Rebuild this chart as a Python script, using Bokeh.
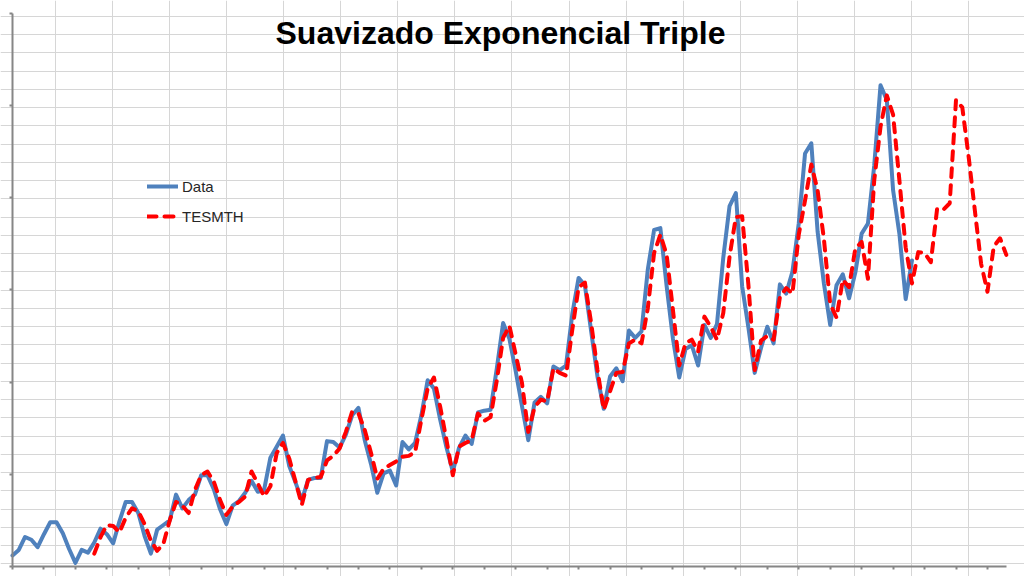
from bokeh.plotting import figure
from bokeh.models import Range1d, Grid, SingleIntervalTicker, Label, Legend
from bokeh.embed import file_html
from bokeh.resources import INLINE

# ---------------- data ----------------
title_text = "Suavizado Exponencial Triple"
series_names = ["Data", "TESMTH"]

passengers = [
    112, 118, 132, 129, 121, 135, 148, 148, 136, 119, 104, 118,
    115, 126, 141, 135, 125, 149, 170, 170, 158, 133, 114, 140,
    145, 150, 178, 163, 172, 178, 199, 199, 184, 162, 146, 166,
    171, 180, 193, 181, 183, 218, 230, 242, 209, 191, 172, 194,
    196, 196, 236, 235, 229, 243, 264, 272, 237, 211, 180, 201,
    204, 188, 235, 227, 234, 264, 302, 293, 259, 229, 203, 229,
    242, 233, 267, 269, 270, 315, 364, 347, 312, 274, 237, 278,
    284, 277, 317, 313, 318, 374, 413, 405, 355, 306, 271, 306,
    315, 301, 356, 348, 355, 422, 465, 467, 404, 347, 305, 336,
    340, 318, 362, 348, 363, 435, 491, 505, 404, 359, 310, 337,
    360, 342, 406, 396, 420, 472, 548, 559, 463, 407, 362, 405,
    417, 391, 419, 461, 472, 535, 622, 606, 508, 461, 390, 432,
]

tesmth_start = 13
tesmth = [
    114, 132, 145, 144, 137, 153, 163, 160, 146, 128, 117,
    125, 150, 170, 166, 158, 183, 199, 203, 192, 172, 156, 165,
    170, 176, 203, 190, 176, 187, 223, 234, 217, 192, 167, 194,
    196, 197, 215, 220, 228, 246, 268, 266, 248, 223, 195, 206,
    210, 214, 219, 220, 224, 259, 293, 305, 273, 237, 199, 230,
    234, 237, 266, 258, 262, 302, 348, 361, 330, 299, 246, 273,
    281, 279, 315, 310, 307, 357, 403, 408, 364, 313, 270, 290,
    310, 311, 342, 346, 342, 380, 440, 460, 438, 378, 318, 342,
    346, 333, 371, 360, 346, 375, 436, 479, 480, 405, 313, 345,
    350, 346, 392, 402, 396, 460, 497, 536, 508, 455, 385, 370,
    411, 403, 445, 452, 412, 519, 577, 611, 590, 519, 446, 407,
    441, 440, 430, 488, 487, 494, 606, 598, 545, 486, 428, 398,
    447, 456, 438,
]

x_data = list(range(len(passengers)))
x_tes = list(range(tesmth_start, tesmth_start + len(tesmth)))

# ---------------- figure ----------------
p = figure(width=1024, height=576, output_backend="svg", toolbar_location=None,
           x_range=Range1d(-1.908, 160.89), y_range=Range1d(89.15, 713.9),
           min_border_left=0, min_border_right=0, min_border_top=0, min_border_bottom=0)
p.outline_line_color = None
p.background_fill_color = "white"
p.border_fill_color = "white"
p.xgrid.visible = False
p.ygrid.visible = False

# spreadsheet cell grid visible behind the transparent chart
p.extra_x_ranges = {"cols": Range1d(-0.956, 16.977)}
p.extra_y_ranges = {"rows": Range1d(-0.688, 30.874)}
p.add_layout(Grid(dimension=0, x_range_name="cols",
                  ticker=SingleIntervalTicker(interval=1, num_minor_ticks=0),
                  grid_line_color="#d6d6d6", grid_line_width=1))
p.add_layout(Grid(dimension=1, y_range_name="rows",
                  ticker=SingleIntervalTicker(interval=1, num_minor_ticks=0),
                  grid_line_color="#d6d6d6", grid_line_width=1))

# axes (no labels, ticks outside), pinned at the data origin
p.xaxis.ticker = SingleIntervalTicker(interval=5, num_minor_ticks=0)
p.xaxis.bounds = (0, 158)
p.xaxis.fixed_location = 100
p.yaxis.ticker = SingleIntervalTicker(interval=100, num_minor_ticks=0)
p.yaxis.bounds = (100, 700)
p.yaxis.fixed_location = 0
for ax in (p.xaxis[0], p.yaxis[0]):
    ax.axis_line_color = "#868686"
    ax.axis_line_width = 2
    ax.major_tick_line_color = "#868686"
    ax.major_tick_line_width = 2
    ax.major_tick_in = 0
    ax.major_tick_out = 3
    ax.minor_tick_line_color = None
    ax.major_label_text_font_size = "0px"
    ax.major_label_text_color = None
    ax.major_label_standoff = 0

r_data = p.line(x_data, passengers, line_color="#4F81BD", line_width=4,
                line_join="round", line_cap="round")
r_tes = p.line(x_tes, tesmth, line_color="#FF0000", line_width=4,
               line_dash="9 8", line_join="round", line_cap="round")

legend = Legend(items=[(series_names[0], [r_data]), (series_names[1], [r_tes])],
                location=(147, 350), orientation="vertical",
                glyph_width=31, glyph_height=20, label_height=20, label_standoff=4,
                spacing=10, padding=0, margin=0,
                border_line_color=None, background_fill_alpha=0,
                label_text_font="Liberation Sans", label_text_font_size="15px",
                label_text_color="#262626")
p.add_layout(legend)

title = Label(x=77.58, y=678.5, x_units="data", y_units="data", text=title_text,
              text_font="Liberation Sans", text_font_style="bold", text_font_size="32px",
              text_align="center", text_baseline="alphabetic", text_color="#000000")
p.add_layout(title)

open("out.html", "w").write(file_html(p, INLINE))
